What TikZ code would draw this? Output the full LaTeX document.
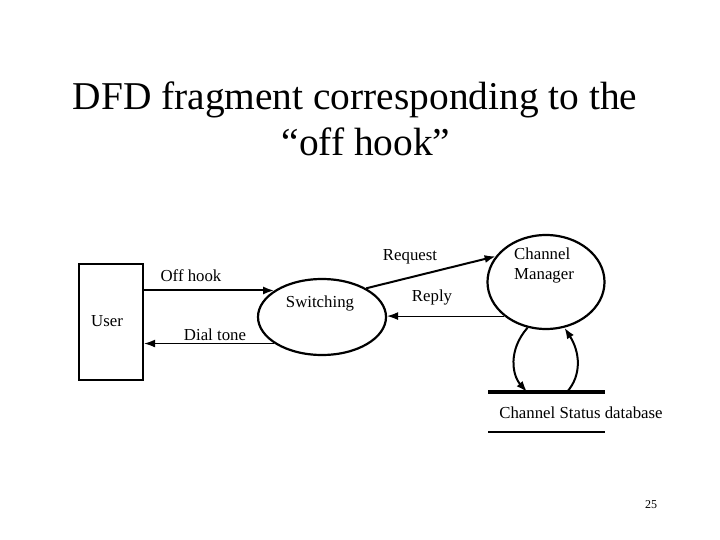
\documentclass[tikz,border=0pt]{standalone}
\usepackage{fontspec}
\setmainfont{Liberation Serif}
\usetikzlibrary{shapes.geometric,arrows.meta,calc}
\begin{document}
\begin{tikzpicture}[x=1pt,y=-1pt,
  lbl/.style={inner sep=0pt,font=\fontsize{16.8}{20}\selectfont},
  flow/.style={line width=2pt,-{Latex[length=11pt,width=8pt]}},
  thinflow/.style={line width=1.1pt,-{Latex[length=11pt,width=8pt]}},
  title/.style={inner sep=0pt,font=\fontsize{39.4}{44}\selectfont,anchor=base}]
\useasboundingbox (0,0) rectangle (720,540);
\fill[white] (0,0) rectangle (720,540);
% title
\node[title] (t1) at (355,110) {DFD fragment corresponding to the};
\node[title] (t2) at (366,156) {“off hook”};
% user
\node[draw,line width=2.4pt,minimum width=64pt,minimum height=116pt,inner sep=0pt] (user) at (111,322) {};
\node[lbl] (userl) at (107,321) {User};
% switching
\node[draw,ellipse,line width=2.2pt,minimum width=128pt,minimum height=76pt,inner sep=0pt] (sw) at (322,317) {};
\node[lbl] (swl) at (320,303) {Switching};
% channel manager
\node[draw,ellipse,line width=2.2pt,minimum width=117pt,minimum height=94pt,inner sep=0pt] (cm) at (546,282) {};
\node[lbl,align=left,anchor=north west] (cml) at (514,248) {Channel\\Manager};
% database
\coordinate (dbl) at (488,392);
\coordinate (dbr) at (605,392);
\coordinate (dbbl) at (488,432);
\coordinate (dbbr) at (605,432);
\draw[line width=3.2pt] (dbl) -- (dbr);
\draw[line width=2.2pt] (dbbl) -- (dbbr);
\node[lbl] (dbt) at (581,413) {Channel Status database};
\coordinate (dbin) at (527,392);
\coordinate (dbout) at (567,392);
% flows
\draw[flow] (user.east |- sw.151) -- (sw.151);
\node[lbl] (offl) at (191,276) {Off hook};
\draw[thinflow] (sw.209) -- (user.east |- sw.209);
\node[lbl] (dtl) at (215,335) {Dial tone};
\draw[flow] (sw.33) -- (cm.153);
\node[lbl] (reql) at (410,257) {Request};
\draw[thinflow] (cm.219) -- (sw.east |- cm.219);
\node[lbl] (repl) at (432,297) {Reply};
\draw[flow] (cm.248) .. controls (508,350) and (512,375) .. (dbin);
\draw[flow] (dbout) .. controls (582,375) and (580,352) .. (cm.292);
% page number
\node[inner sep=0pt,font=\fontsize{12}{14}\selectfont] (pg) at (651,505) {25};
\end{tikzpicture}
\end{document}
